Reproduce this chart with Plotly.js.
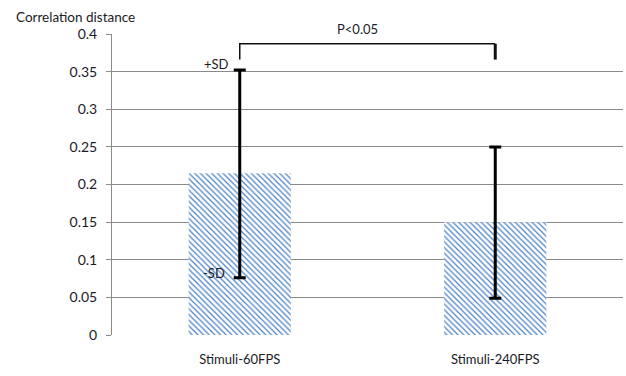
<!DOCTYPE html>
<html>
<head>
<meta charset="utf-8">
<script src="https://cdn.plot.ly/plotly-3.0.1.min.js"></script>
<style>html,body{margin:0;padding:0;background:#fff;}#chart{width:626px;height:376px;}</style>
</head>
<body>
<div id="chart"></div>
<script>
const categories = ["Stimuli-60FPS", "Stimuli-240FPS"];
const means = [0.215, 0.15];
const sdPlus = [0.137, 0.1];
const sdMinus = [0.139, 0.101];
const yTickVals = [0, 0.05, 0.1, 0.15, 0.2, 0.25, 0.3, 0.35, 0.4];
const yTickText = ["0", "0.05", "0.1", "0.15", "0.2", "0.25", "0.3", "0.35", "0.4"];
const bracketY = 0.387;
const bracketTickY = 0.366;
const sigLabel = "P<0.05";
const sdLabels = ["+SD", "-SD"];
const yTitle = "Correlation distance";

const FONT = "Lato, 'Open Sans', sans-serif";
const TXT = "#1a1a26";

const bars = {
  type: "bar",
  x: categories,
  y: means,
  width: 0.4,
  marker: {
    color: "#ffffff",
    line: {width: 0},
    pattern: {shape: "\\", fgcolor: "#4a82c4", bgcolor: "#ffffff", size: 4, solidity: 0.3, fillmode: "replace"}
  },
  error_y: {type: "data", symmetric: false, array: sdPlus, arrayminus: sdMinus, color: "#000", thickness: 3, width: 6},
  hoverinfo: "none"
};

const bracket = {
  type: "scatter", mode: "lines",
  x: [categories[0], categories[0], categories[1]],
  y: [bracketTickY, bracketY, bracketY],
  line: {color: "#111", width: 1.5},
  hoverinfo: "none"
};
const bracketRight = {
  type: "scatter", mode: "lines",
  x: [categories[1], categories[1]],
  y: [bracketY, bracketTickY],
  line: {color: "#111", width: 3},
  hoverinfo: "none"
};

const layout = {
  width: 626, height: 376,
  margin: {l: 112, r: 3, t: 34, b: 41},
  paper_bgcolor: "#fff", plot_bgcolor: "#fff",
  showlegend: false,
  font: {family: FONT, size: 12, color: TXT},
  xaxis: {
    type: "category",
    showgrid: false, zeroline: false, showline: false,
    ticks: "", tickfont: {family: FONT, size: 13, color: TXT},
    ticklabelstandoff: 15,
    fixedrange: true
  },
  yaxis: {
    range: [0, 0.4],
    tickvals: yTickVals, ticktext: yTickText,
    showgrid: true, gridcolor: "#8a8a8a", gridwidth: 1,
    zeroline: false,
    showline: true, linecolor: "#8a8a8a", linewidth: 1,
    ticks: "outside", ticklen: 5, tickcolor: "#8a8a8a",
    tickfont: {family: FONT, size: 14, color: TXT},
    ticklabelstandoff: 6,
    fixedrange: true
  },
  annotations: [
    {text: yTitle, xref: "paper", yref: "paper", x: -0.192, y: 1.056, xanchor: "left", yanchor: "middle", showarrow: false, font: {family: FONT, size: 13.5, color: TXT}},
    {text: sigLabel, xref: "paper", yref: "y", x: 0.481, y: bracketY, yshift: 15, xanchor: "center", yanchor: "middle", showarrow: false, font: {family: FONT, size: 13, color: TXT}},
    {text: sdLabels[0], xref: "x", yref: "y", x: categories[0], y: means[0] + sdPlus[0], xshift: -9, yshift: 6, xanchor: "right", yanchor: "middle", showarrow: false, font: {family: FONT, size: 13, color: TXT}},
    {text: sdLabels[1], xref: "x", yref: "y", x: categories[0], y: means[0] - sdMinus[0], xshift: -13, yshift: 5, xanchor: "right", yanchor: "middle", showarrow: false, font: {family: FONT, size: 13, color: TXT}}
  ]
};

Plotly.newPlot("chart", [bars, bracket, bracketRight], layout, {displayModeBar: false, staticPlot: true});
</script>
</body>
</html>
